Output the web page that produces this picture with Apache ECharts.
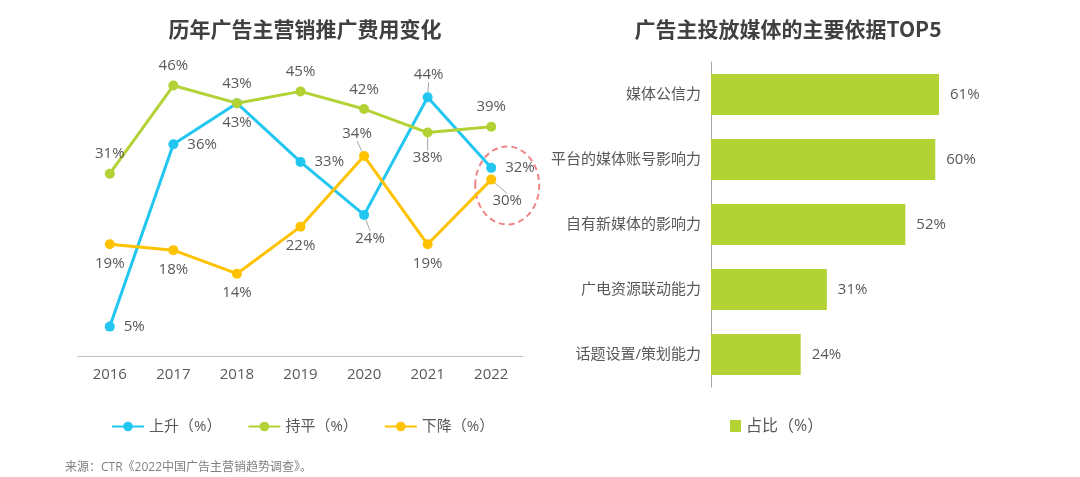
<!DOCTYPE html>
<html>
<head>
<meta charset="utf-8">
<title>广告主营销推广</title>
<script src="https://cdn.jsdelivr.net/npm/echarts@6/dist/echarts.min.js"></script>
<style>
  html,body{margin:0;padding:0;background:#fff;}
  #main{width:1080px;height:477px;}
</style>
</head>
<body>
<div id="main"></div>
<script>
// 左图：历年广告主营销推广费用变化
var years = ['2016','2017','2018','2019','2020','2021','2022'];
var rise = [5, 36, 43, 33, 24, 44, 32];
var flat = [31, 46, 43, 45, 42, 38, 39];
var fall = [19, 18, 14, 22, 34, 19, 30];
var lineNames = ['上升（%）','持平（%）','下降（%）'];

// 右图：广告主投放媒体的主要依据TOP5
var factors = ['媒体公信力','平台的媒体账号影响力','自有新媒体的影响力','广电资源联动能力','话题设置/策划能力'];
var shares = [61, 60, 52, 31, 24];
var barName = '占比（%）';

// 标签位置（样式，不是数据）
var risePos = ['right','right','bottom','right','bottom','top','right'];
var flatPos = ['top','top','top','top','top','bottom','top'];
var fallPos = ['bottom','bottom','bottom','bottom','top','bottom','bottom'];
// 带引导线的标签偏移 [dx, dy]
var shifts = {
  '0-4': [6, 4],
  '0-5': [1, -3],
  '1-5': [0, 6],
  '2-4': [-7, -3],
  '2-6': [16, 2]
};

var cjk = 'Noto Sans CJK SC';
var font = "'Open Sans', 'Noto Sans CJK SC'";
var txt = '#595959';

function build(vals, pos, si){
  return vals.map(function(v, i){
    var p = pos[i];
    var item = {value: v, label: {position: p, distance: p === 'right' ? 9 : 7}};
    if (shifts[si + '-' + i]) {
      item.labelLine = {show: true, lineStyle: {color: '#a6a6a6', width: 1}};
    }
    return item;
  });
}

function lineSeries(name, vals, pos, si, color){
  return {
    name: name,
    type: 'line',
    xAxisIndex: 0,
    yAxisIndex: 0,
    data: build(vals, pos, si),
    symbol: 'circle',
    symbolSize: 10,
    lineStyle: {width: 3, color: color},
    itemStyle: {color: color},
    label: {
      show: true,
      formatter: '{c}%',
      color: txt,
      fontSize: 15,
      fontFamily: font
    },
    labelLayout: function(params){
      var s = shifts[params.seriesIndex + '-' + params.dataIndex];
      if (s) return {dx: s[0], dy: s[1]};
      return {};
    }
  };
}

var chart = echarts.init(document.getElementById('main'));
var option = {
  backgroundColor: '#fff',
  textStyle: {fontFamily: font},
  animation: false,
  title: [{
    text: '历年广告主营销推广费用变化',
    left: 300, top: 14, textAlign: 'center',
    textStyle: {fontSize: 21, fontWeight: 'bold', color: '#404040', fontFamily: cjk}
  }, {
    text: '广告主投放媒体的主要依据TOP5',
    left: 783, top: 14, textAlign: 'center',
    textStyle: {fontSize: 21, fontWeight: 'bold', color: '#404040', fontFamily: cjk}
  }, {
    text: '来源：CTR《2022中国广告主营销趋势调查》。',
    left: 60, top: 457,
    textStyle: {fontSize: 12, fontWeight: 'normal', color: '#808080', fontFamily: font}
  }],
  legend: [{
    data: lineNames,
    left: 106, top: 414,
    itemWidth: 32, itemHeight: 12, itemGap: 26,
    textStyle: {fontSize: 15, color: txt, fontFamily: font}
  }, {
    data: [barName],
    left: 725, top: 413,
    icon: 'rect',
    itemWidth: 11, itemHeight: 12, itemGap: 10,
    textStyle: {fontSize: 16, color: txt, fontFamily: font}
  }],
  grid: [
    {left: 78, right: 557, top: 62, bottom: 121},
    {left: 711, right: 70, top: 62, bottom: 90}
  ],
  xAxis: [{
    gridIndex: 0,
    type: 'category',
    data: years,
    boundaryGap: true,
    axisLine: {lineStyle: {color: '#bfbfbf', width: 1}},
    axisTick: {show: false},
    axisLabel: {color: txt, fontSize: 15, margin: 11, fontFamily: font}
  }, {
    gridIndex: 1,
    type: 'value',
    min: 0, max: 80,
    show: false
  }],
  yAxis: [{
    gridIndex: 0,
    type: 'value',
    min: 0, max: 50,
    show: false
  }, {
    gridIndex: 1,
    type: 'category',
    data: factors,
    inverse: true,
    axisLine: {lineStyle: {color: '#a6a6a6', width: 1}},
    axisTick: {show: false},
    axisLabel: {color: txt, fontSize: 15, margin: 10, fontFamily: font}
  }],
  series: [
    lineSeries(lineNames[0], rise, risePos, 0, '#22c6f0'),
    lineSeries(lineNames[1], flat, flatPos, 1, '#b2d235'),
    lineSeries(lineNames[2], fall, fallPos, 2, '#ffc200'),
    {
      name: barName,
      type: 'bar',
      xAxisIndex: 1,
      yAxisIndex: 1,
      data: shares,
      barWidth: 41,
      itemStyle: {color: '#b3d334'},
      label: {
        show: true,
        position: 'right',
        distance: 11,
        formatter: '{c}%',
        color: txt,
        fontSize: 15,
        fontFamily: font
      }
    }
  ]
};
chart.setOption(option);

// 2022 年数据点外的虚线椭圆标注
var c = chart.convertToPixel({xAxisIndex: 0, yAxisIndex: 0}, ['2022', 29]);
chart.setOption({
  graphic: [{
    type: 'ellipse',
    shape: {cx: c[0] + 16, cy: c[1], rx: 32, ry: 39},
    style: {fill: 'none', stroke: '#ef8585', lineWidth: 2, lineDash: [6, 4]},
    z: 1
  }]
});
</script>
</body>
</html>
